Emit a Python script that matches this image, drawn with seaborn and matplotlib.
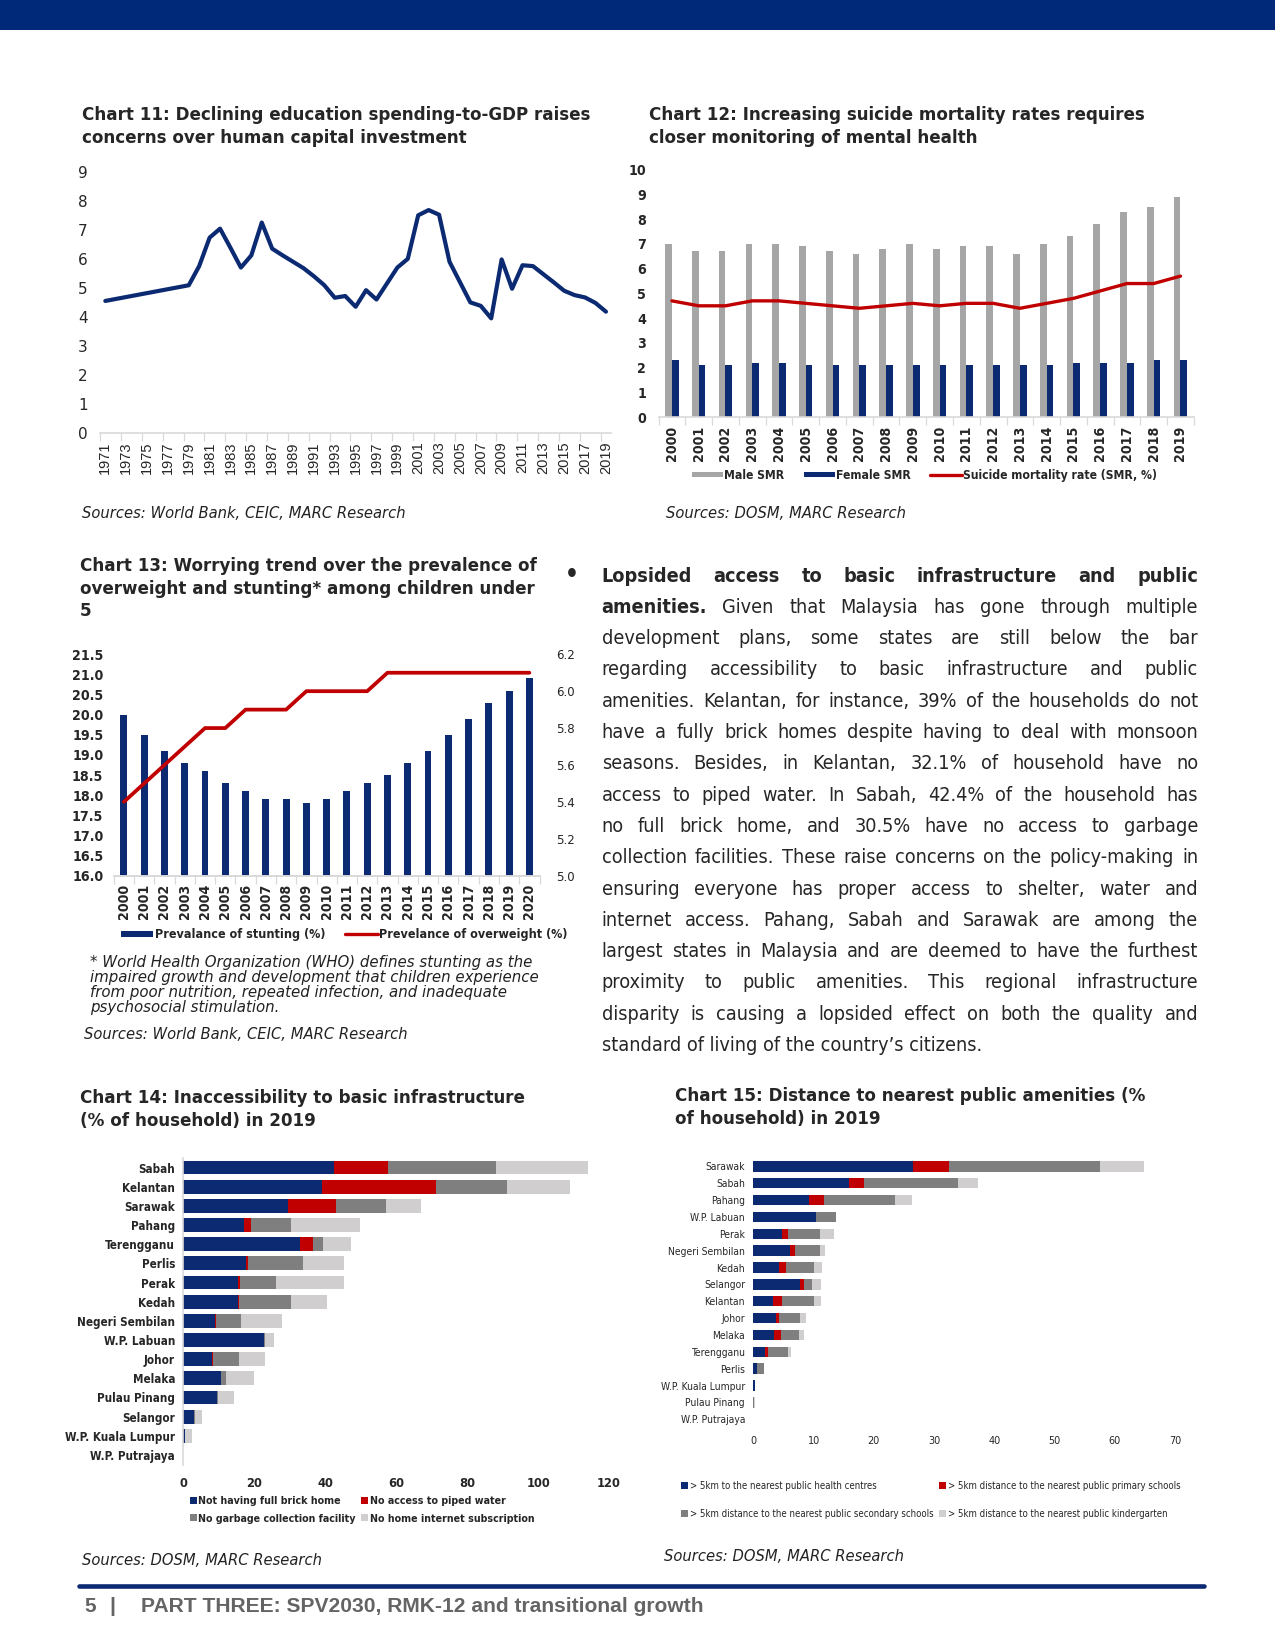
import matplotlib
matplotlib.use('Agg')
import numpy as np
import pandas as pd
import matplotlib.pyplot as plt
import seaborn as sns
from matplotlib.patches import Patch, Rectangle
from matplotlib.lines import Line2D

# ---- data ----
edu_years = [1971, 1979, 1980, 1981, 1982, 1983, 1984, 1985, 1986, 1987, 1988, 1989,
             1990, 1991, 1992, 1993, 1994, 1995, 1996, 1997, 1998, 1999, 2000, 2001,
             2002, 2003, 2004, 2005, 2006, 2007, 2008, 2009, 2010, 2011, 2012, 2013,
             2014, 2015, 2016, 2017, 2018, 2019]
edu_spend = [4.55, 5.09, 5.75, 6.73, 7.04, 6.38, 5.70, 6.12, 7.25, 6.35, 6.12, 5.90,
             5.68, 5.40, 5.09, 4.66, 4.72, 4.35, 4.92, 4.60, 5.15, 5.70, 6.00, 7.50,
             7.68, 7.52, 5.90, 5.20, 4.50, 4.38, 3.95, 5.98, 4.97, 5.78, 5.75, 5.47,
             5.19, 4.90, 4.75, 4.67, 4.48, 4.18]

smr_years = [str(y) for y in range(2000, 2020)]
male_smr = [7.0, 6.7, 6.7, 7.0, 7.0, 6.9, 6.7, 6.6, 6.8, 7.0,
            6.8, 6.9, 6.9, 6.6, 7.0, 7.3, 7.8, 8.3, 8.5, 8.9]
female_smr = [2.3, 2.1, 2.1, 2.2, 2.2, 2.1, 2.1, 2.1, 2.1, 2.1,
              2.1, 2.1, 2.1, 2.1, 2.1, 2.2, 2.2, 2.2, 2.3, 2.3]
total_smr = [4.7, 4.5, 4.5, 4.7, 4.7, 4.6, 4.5, 4.4, 4.5, 4.6,
             4.5, 4.6, 4.6, 4.4, 4.6, 4.8, 5.1, 5.4, 5.4, 5.7]

child_years = [str(y) for y in range(2000, 2021)]
stunting = [20.0, 19.5, 19.1, 18.8, 18.6, 18.3, 18.1, 17.9, 17.9, 17.8, 17.9,
            18.1, 18.3, 18.5, 18.8, 19.1, 19.5, 19.9, 20.3, 20.6, 20.9]
overweight = [5.4, 5.5, 5.6, 5.7, 5.8, 5.8, 5.9, 5.9, 5.9, 6.0, 6.0,
              6.0, 6.0, 6.1, 6.1, 6.1, 6.1, 6.1, 6.1, 6.1, 6.1]

states14 = ['Sabah', 'Kelantan', 'Sarawak', 'Pahang', 'Terengganu', 'Perlis', 'Perak',
            'Kedah', 'Negeri Sembilan', 'W.P. Labuan', 'Johor', 'Melaka', 'Pulau Pinang',
            'Selangor', 'W.P. Kuala Lumpur', 'W.P. Putrajaya']
no_brick = [42.4, 39.0, 29.5, 17.1, 32.9, 17.6, 15.4, 15.4, 8.9, 22.8, 8.2, 10.7, 9.4, 3.1, 0.4, 0.0]
no_water = [15.2, 32.1, 13.5, 2.1, 3.7, 0.7, 0.7, 0.4, 0.2, 0.0, 0.1, 0.0, 0.0, 0.0, 0.0, 0.0]
no_garbage = [30.5, 20.0, 14.0, 11.2, 2.7, 15.4, 10.1, 14.6, 7.1, 0.2, 7.3, 1.4, 0.3, 0.2, 0.0, 0.0]
no_internet = [26.1, 17.9, 10.1, 19.3, 7.9, 11.7, 19.0, 10.2, 11.5, 2.6, 7.3, 7.7, 4.7, 2.0, 1.9, 0.0]
infra_labels = ['Not having full brick home', 'No access to piped water',
                'No garbage collection facility', 'No home internet subscription']

states15 = ['Sarawak', 'Sabah', 'Pahang', 'W.P. Labuan', 'Perak', 'Negeri Sembilan', 'Kedah',
            'Selangor', 'Kelantan', 'Johor', 'Melaka', 'Terengganu', 'Perlis',
            'W.P. Kuala Lumpur', 'Pulau Pinang', 'W.P. Putrajaya']
far_health = [26.5, 15.8, 9.3, 10.4, 4.7, 6.0, 4.2, 7.8, 3.3, 3.7, 3.4, 1.9, 0.6, 0.2, 0.0, 0.0]
far_primary = [6.0, 2.5, 2.5, 0.0, 1.0, 0.9, 1.2, 0.6, 1.4, 0.6, 1.1, 0.5, 0.0, 0.0, 0.0, 0.0]
far_secondary = [25.1, 15.6, 11.7, 3.3, 5.3, 4.1, 4.6, 1.4, 5.3, 3.4, 3.0, 3.4, 1.2, 0.0, 0.1, 0.0]
far_kinder = [7.2, 3.4, 2.9, 0.0, 2.4, 0.9, 1.4, 1.4, 1.2, 1.0, 0.9, 0.5, 0.0, 0.0, 0.2, 0.0]
amenity_labels = ['> 5km to the nearest public health centres',
                  '> 5km distance to the nearest public primary schools',
                  '> 5km distance to the nearest public secondary schools',
                  '> 5km distance to the nearest public kindergarten']

# ---- style ----
NAVY = '#0b2a72'
RED = '#c00000'
DGREY = '#7f7f7f'
LGREY = '#d0cece'
MGREY = '#a6a6a6'
AXGREY = '#d9d9d9'

sns.set_style('white')
plt.rcParams['font.family'] = ['DejaVu Sans']
plt.rcParams['font.stretch'] = 'condensed'
plt.rcParams['patch.force_edgecolor'] = False
plt.rcParams['patch.linewidth'] = 0
NARROW = ['Liberation Sans Narrow', 'DejaVu Sans']

W, H = 1210, 1566  # layout units of the reference page


def fx(x):
    return x / W


def fy(y):
    return 1 - y / H


def axes_at(l, t, r, b):
    return fig.add_axes([fx(l), fy(b), (r - l) / W, (b - t) / H])


fig = plt.figure(figsize=(8.5, 11), dpi=150)
fig.patches.append(Rectangle((0, fy(28)), 1, 28 / H, transform=fig.transFigure,
                             color='#00297a', zorder=0))
fig.lines.append(Line2D([fx(75), fx(1143)], [fy(1505), fy(1505)], transform=fig.transFigure,
                        color=NAVY, lw=2.2))
FOOT = dict(fontsize=10.1, weight='bold', color='#646464', va='center',
            family=['Liberation Sans', 'DejaVu Sans'])
fig.text(fx(80), fy(1525), '5', **FOOT)
fig.text(fx(104), fy(1525), '|', **FOOT)
fig.text(fx(134), fy(1525), 'PART THREE: SPV2030, RMK-12 and transitional growth', **FOOT)

TITLE = dict(fontsize=8.05, weight='bold', va='top', linespacing=1.3, stretch='normal')
SRC = dict(fontsize=7.1, style='italic', va='center', color='#222222', stretch='normal')

# ---- Chart 11 ----
fig.text(fx(78), fy(101), 'Chart 11: Declining education spending-to-GDP raises\n'
         'concerns over human capital investment', **TITLE)
ax = axes_at(95, 163, 580, 411)
sns.lineplot(x=edu_years, y=edu_spend, ax=ax, color=NAVY, lw=2.0)
ax.set_xlim(1970.5, 2019.5)
ax.set_ylim(0, 9)
ax.set_yticks(range(0, 10))
ax.set_xticks(range(1971, 2020, 2))
ax.set_xticks(np.arange(1970.5, 2020, 2), minor=True)
ax.tick_params(axis='x', which='major', length=0, labelrotation=90, labelsize=7, pad=4)
ax.tick_params(axis='x', which='minor', length=4, color=AXGREY, bottom=True)
ax.tick_params(axis='y', length=0, labelsize=7.3, pad=6)
for lab in ax.get_xticklabels():
    lab.set_family(['Liberation Sans', 'DejaVu Sans'])
for lab in ax.get_yticklabels():
    lab.set_stretch('normal')
sns.despine(ax=ax, left=True)
ax.spines['bottom'].set_color(AXGREY)
ax.set_xlabel('')
ax.set_ylabel('')
fig.text(fx(78), fy(487), 'Sources: World Bank, CEIC, MARC Research', **SRC)

# ---- Chart 12 ----
fig.text(fx(616), fy(101), 'Chart 12: Increasing suicide mortality rates requires\n'
         'closer monitoring of mental health', **TITLE)
ax = axes_at(625, 161, 1133, 396)
smr = pd.DataFrame({'year': smr_years * 2, 'rate': male_smr + female_smr,
                    'sex': ['Male SMR'] * 20 + ['Female SMR'] * 20})
sns.barplot(data=smr, x='year', y='rate', hue='sex', palette=[MGREY, NAVY],
            width=0.5, gap=0, saturation=1, linewidth=0, ax=ax, legend=False)
sns.lineplot(x=np.arange(len(smr_years)), y=total_smr, ax=ax, color=RED, lw=1.6)
ax.set_ylim(0, 10)
ax.set_xlim(-0.5, len(smr_years) - 0.5)
ax.set_yticks(range(0, 11))
ax.set_xticks(np.arange(-0.5, len(smr_years), 1), minor=True)
ax.tick_params(axis='x', which='major', length=0, labelrotation=90, labelsize=6.8, pad=4)
ax.tick_params(axis='x', which='minor', length=4, color=AXGREY, bottom=True)
ax.tick_params(axis='y', length=0, labelsize=6.8, pad=6)
for lab in ax.get_xticklabels() + ax.get_yticklabels():
    lab.set_weight('bold')
sns.despine(ax=ax, left=True)
ax.spines['bottom'].set_color(AXGREY)
ax.set_xlabel('')
ax.set_ylabel('')
ax.legend([Patch(color=MGREY), Patch(color=NAVY), Line2D([], [], color=RED, lw=1.6)],
          ['Male SMR', 'Female SMR', 'Suicide mortality rate (SMR, %)'],
          loc='center left', bbox_to_anchor=(fx(646), fy(451)), bbox_transform=fig.transFigure,
          ncol=3, frameon=False, handlelength=2.6, handleheight=0.35, handletextpad=0.1,
          columnspacing=1.6, prop={'size': 5.8, 'weight': 'bold', 'family': NARROW})
fig.text(fx(632), fy(487), 'Sources: DOSM, MARC Research', **SRC)

# ---- Chart 13 ----
fig.text(fx(76), fy(529), 'Chart 13: Worrying trend over the prevalence of\n'
         'overweight and stunting* among children under\n5', **TITLE)
ax = axes_at(108, 621, 512, 831)
sns.barplot(x=child_years, y=stunting, color=NAVY, width=0.34, saturation=1, linewidth=0, ax=ax)
ax.set_ylim(16, 21.5)
ax.set_yticks(np.arange(16, 21.51, 0.5))
ax.set_yticklabels([f'{v:.1f}' for v in np.arange(16, 21.51, 0.5)])
ax.set_xticks(np.arange(-0.5, len(child_years), 1), minor=True)
ax.tick_params(axis='x', which='major', length=0, labelrotation=90, labelsize=6.8, pad=4)
ax.tick_params(axis='x', which='minor', length=4, color=AXGREY, bottom=True)
ax.tick_params(axis='y', length=0, labelsize=6.8, pad=5)
for lab in ax.get_xticklabels() + ax.get_yticklabels():
    lab.set_weight('bold')
ax2 = ax.twinx()
sns.lineplot(x=np.arange(len(child_years)), y=overweight, ax=ax2, color=RED, lw=1.8)
ax2.set_ylim(5.0, 6.2)
ax2.set_yticks(np.arange(5.0, 6.21, 0.2))
ax2.set_yticklabels([f'{v:.1f}' for v in np.arange(5.0, 6.21, 0.2)])
ax2.tick_params(axis='y', length=0, labelsize=6.3, pad=8)
ax.set_xlim(-0.5, len(child_years) - 0.5)
for a in (ax, ax2):
    sns.despine(ax=a, left=True, right=True)
    a.spines['bottom'].set_color(AXGREY)
    a.set_xlabel('')
    a.set_ylabel('')
ax.legend([Patch(color=NAVY), Line2D([], [], color=RED, lw=1.6)],
          ['Prevalance of stunting (%)', 'Prevelance of overweight (%)'],
          loc='center left', bbox_to_anchor=(fx(104), fy(887)), bbox_transform=fig.transFigure,
          ncol=2, frameon=False, handlelength=2.6, handleheight=0.35, handletextpad=0.1,
          columnspacing=1.6, prop={'size': 6.0, 'weight': 'bold'})
fig.text(fx(85), fy(906), '* World Health Organization (WHO) defines stunting as the\n'
         'impaired growth and development that children experience\n'
         'from poor nutrition, repeated infection, and inadequate\n'
         'psychosocial stimulation.', fontsize=7.2, style='italic', va='top',
         linespacing=1.0, color='#222222', stretch='normal')
fig.text(fx(80), fy(982), 'Sources: World Bank, CEIC, MARC Research', **SRC)

# ---- body text ----
body_lines = [
    [('Lopsided access to basic infrastructure and public', 'bold')],
    [('amenities.', 'bold'), ('Given that Malaysia has gone through multiple', 'normal')],
    [('development plans, some states are still below the bar', 'normal')],
    [('regarding accessibility to basic infrastructure and public', 'normal')],
    [('amenities. Kelantan, for instance, 39% of the households do not', 'normal')],
    [('have a fully brick homes despite having to deal with monsoon', 'normal')],
    [('seasons. Besides, in Kelantan, 32.1% of household have no', 'normal')],
    [('access to piped water. In Sabah, 42.4% of the household has', 'normal')],
    [('no full brick home, and 30.5% have no access to garbage', 'normal')],
    [('collection facilities. These raise concerns on the policy-making in', 'normal')],
    [('ensuring everyone has proper access to shelter, water and', 'normal')],
    [('internet access. Pahang, Sabah and Sarawak are among the', 'normal')],
    [('largest states in Malaysia and are deemed to have the furthest', 'normal')],
    [('proximity to public amenities. This regional infrastructure', 'normal')],
    [('disparity is causing a lopsided effect on both the quality and', 'normal')],
]
last_line = 'standard of living of the country\u2019s citizens.'
BODY_SIZE = 9.5
X0, X1 = 571, 1137
renderer = fig.canvas.get_renderer()
fig.text(fx(536), fy(552), '\u2022', fontsize=BODY_SIZE + 2, weight='bold', va='baseline')
for i, parts in enumerate(body_lines):
    yb = 552 + i * 29.7
    words = [(w, wt) for txt, wt in parts for w in txt.split()]
    arts = [fig.text(0, fy(yb), w, fontsize=BODY_SIZE, weight=wt, va='baseline') for w, wt in words]
    widths = [a.get_window_extent(renderer).width / fig.bbox.width for a in arts]
    gap = (fx(X1) - fx(X0) - sum(widths)) / (len(arts) - 1)
    x = fx(X0)
    for a, w in zip(arts, widths):
        a.set_x(x)
        x += w + gap
fig.text(fx(X0), fy(552 + 15 * 29.7), last_line, fontsize=BODY_SIZE, va='baseline')

# legend order: fill rows first
row_order = [0, 2, 1, 3]

# ---- Chart 14 ----
fig.text(fx(76), fy(1034), 'Chart 14: Inaccessibility to basic infrastructure\n'
         '(% of household) in 2019', **TITLE)
ax = axes_at(174, 1099, 578, 1390)
layers14 = np.cumsum([no_brick, no_water, no_garbage, no_internet], axis=0)
colors = [NAVY, RED, DGREY, LGREY]
for vals, c in zip(layers14[::-1], colors[::-1]):
    sns.barplot(x=vals, y=states14, orient='h', color=c, width=0.72, saturation=1,
                linewidth=0, ax=ax)
ax.set_xlim(0, 120)
ax.set_xticks(range(0, 121, 20))
ax.tick_params(axis='both', length=0, labelsize=5.6, pad=4)
ax.tick_params(axis='x', labelsize=6.2, pad=6)
for lab in ax.get_xticklabels() + ax.get_yticklabels():
    lab.set_weight('bold')
    lab.set_family(NARROW)
sns.despine(ax=ax, bottom=True)
ax.spines['left'].set_color(AXGREY)
ax.set_xlabel('')
ax.set_ylabel('')
ax.legend([Patch(color=colors[i]) for i in row_order], [infra_labels[i] for i in row_order],
          loc='upper left', bbox_to_anchor=(fx(171), fy(1411)), bbox_transform=fig.transFigure,
          ncol=2, frameon=False, handlelength=0.65, handleheight=0.65, handletextpad=0.15,
          columnspacing=0.5, labelspacing=0.7,
          prop={'size': 5.1, 'weight': 'bold', 'family': NARROW})
fig.text(fx(78), fy(1481), 'Sources: DOSM, MARC Research', **SRC)

# ---- Chart 15 ----
fig.text(fx(641), fy(1032), 'Chart 15: Distance to nearest public amenities (%\n'
         'of household) in 2019', **TITLE)
ax = axes_at(715, 1099, 1115, 1355)
layers15 = np.cumsum([far_health, far_primary, far_secondary, far_kinder], axis=0)
for vals, c in zip(layers15[::-1], colors[::-1]):
    sns.barplot(x=vals, y=states15, orient='h', color=c, width=0.62, saturation=1,
                linewidth=0, ax=ax)
ax.set_xlim(0, 70)
ax.set_xticks(range(0, 71, 10))
ax.tick_params(axis='both', length=0, labelsize=4.9, pad=4)
ax.tick_params(axis='x', labelsize=5.2, pad=4)
sns.despine(ax=ax, left=True, bottom=True)
ax.set_xlabel('')
ax.set_ylabel('')
ax.legend([Patch(color=colors[i]) for i in row_order], [amenity_labels[i] for i in row_order],
          loc='upper left', bbox_to_anchor=(fx(638), fy(1397)), bbox_transform=fig.transFigure,
          ncol=2, frameon=False, handlelength=0.7, handleheight=0.7, handletextpad=0.2,
          columnspacing=0.6, labelspacing=1.9, prop={'size': 4.6})
fig.text(fx(630), fy(1477), 'Sources: DOSM, MARC Research', **SRC)

fig.savefig('out.png', dpi=150)
